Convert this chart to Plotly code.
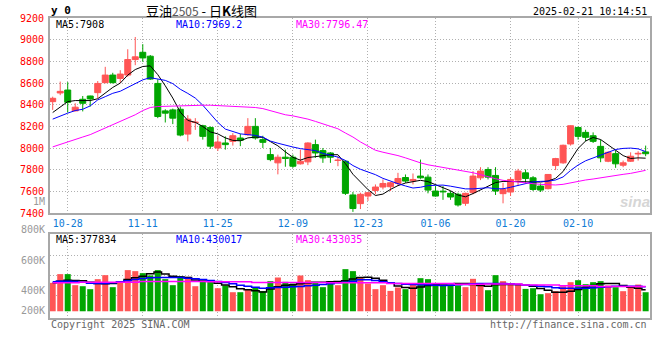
import plotly.graph_objects as go

# ---------------- data ----------------
dates = [
    "2024-10-24", "2024-10-25", "2024-10-28", "2024-10-29", "2024-10-30", "2024-10-31", "2024-11-01", "2024-11-04",
    "2024-11-05", "2024-11-06", "2024-11-07", "2024-11-08", "2024-11-11", "2024-11-12", "2024-11-13", "2024-11-14",
    "2024-11-15", "2024-11-18", "2024-11-19", "2024-11-20", "2024-11-21", "2024-11-22", "2024-11-25", "2024-11-26",
    "2024-11-27", "2024-11-28", "2024-11-29", "2024-12-02", "2024-12-03", "2024-12-04", "2024-12-05", "2024-12-06",
    "2024-12-09", "2024-12-10", "2024-12-11", "2024-12-12", "2024-12-13", "2024-12-16", "2024-12-17", "2024-12-18",
    "2024-12-19", "2024-12-20", "2024-12-23", "2024-12-24", "2024-12-25", "2024-12-26", "2024-12-27", "2024-12-30",
    "2024-12-31", "2025-01-02", "2025-01-03", "2025-01-06", "2025-01-07", "2025-01-08", "2025-01-09", "2025-01-10",
    "2025-01-13", "2025-01-14", "2025-01-15", "2025-01-16", "2025-01-17", "2025-01-20", "2025-01-21", "2025-01-22",
    "2025-01-23", "2025-01-24", "2025-01-27", "2025-02-05", "2025-02-06", "2025-02-07", "2025-02-10", "2025-02-11",
    "2025-02-12", "2025-02-13", "2025-02-14", "2025-02-17", "2025-02-18", "2025-02-19", "2025-02-20", "2025-02-21",
]

open_ = [8429, 8509, 8536, 8344, 8451, 8481, 8512, 8604, 8674, 8643,
         8674, 8817, 8884, 8848, 8597, 8344, 8353, 8359, 8130, 8237,
         8207, 8191, 8002, 8048, 8063, 8094, 8124, 8201, 8079, 7941,
         7865, 7917, 7917, 7856, 7874, 8033, 7978, 7956, 7887, 7880,
         7569, 7489, 7559, 7611, 7642, 7645, 7675, 7730, 7699, 7743,
         7733, 7605, 7604, 7584, 7575, 7492, 7590, 7727, 7804, 7749,
         7581, 7596, 7706, 7773, 7727, 7651, 7627, 7840, 7865, 8039,
         8191, 8146, 8115, 8017, 7880, 7950, 7843, 7880, 7947, 7966]
high = [8475, 8614, 8609, 8414, 8481, 8484, 8619, 8750, 8695, 8719,
        8912, 9025, 8959, 8859, 8634, 8359, 8365, 8384, 8304, 8277,
        8216, 8201, 8115, 8109, 8139, 8133, 8277, 8277, 8115, 8002,
        7941, 7987, 7941, 7987, 8054, 8079, 8002, 7964, 7926, 7889,
        7596, 7590, 7596, 7666, 7712, 7688, 7773, 7758, 7767, 7895,
        7758, 7651, 7651, 7605, 7590, 7590, 7789, 7825, 7825, 7825,
        7681, 7733, 7810, 7804, 7743, 7675, 7760, 7911, 8033, 8209,
        8201, 8170, 8146, 8079, 7972, 7978, 7886, 7962, 7972, 8024]
low = [8353, 8489, 8329, 8339, 8339, 8384, 8460, 8599, 8597, 8599,
       8659, 8765, 8796, 8629, 8277, 8237, 8222, 8109, 8063, 8169,
       8079, 7994, 7974, 7987, 8024, 8019, 8115, 8079, 8002, 7880,
       7759, 7829, 7819, 7849, 7844, 7911, 7865, 7865, 7834, 7569,
       7413, 7439, 7514, 7575, 7620, 7605, 7651, 7681, 7666, 7718,
       7584, 7554, 7524, 7524, 7462, 7469, 7575, 7706, 7712, 7569,
       7492, 7559, 7651, 7681, 7605, 7596, 7620, 7798, 7856, 8024,
       8079, 8063, 8048, 7871, 7871, 7819, 7825, 7874, 7886, 7926]
close = [8460, 8524, 8423, 8378, 8414, 8454, 8597, 8674, 8604, 8683,
         8817, 8842, 8832, 8637, 8292, 8323, 8277, 8121, 8268, 8241,
         8109, 8019, 8057, 8033, 8115, 8073, 8201, 8094, 8054, 7895,
         7917, 7905, 7834, 7880, 8048, 7956, 7911, 7917, 7891, 7584,
         7444, 7575, 7590, 7642, 7675, 7681, 7721, 7697, 7712, 7727,
         7614, 7559, 7597, 7550, 7477, 7584, 7743, 7789, 7733, 7605,
         7620, 7712, 7789, 7721, 7620, 7614, 7758, 7904, 8027, 8207,
         8109, 8100, 8063, 7911, 7962, 7856, 7865, 7926, 7953, 7949]

ma5 = [8329, 8378, 8429, 8439, 8438, 8439, 8456, 8512, 8560, 8600,
       8674, 8725, 8753, 8759, 8678, 8575, 8462, 8332, 8256, 8238,
       8200, 8150, 8132, 8095, 8072, 8068, 8095, 8102, 8100, 8061,
       8022, 7966, 7916, 7890, 7914, 7922, 7929, 7940, 7940, 7858,
       7760, 7688, 7619, 7564, 7577, 7620, 7655, 7679, 7694, 7704,
       7692, 7663, 7640, 7608, 7568, 7552, 7582, 7617, 7655, 7683,
       7694, 7692, 7690, 7688, 7688, 7688, 7698, 7722, 7785, 7898,
       7998, 8066, 8099, 8080, 8032, 7980, 7932, 7905, 7911, 7908]
ma10 = [8268, 8298, 8323, 8347, 8359, 8390, 8445, 8475, 8506, 8525,
        8560, 8592, 8630, 8650, 8640, 8625, 8595, 8543, 8505, 8462,
        8396, 8314, 8238, 8176, 8156, 8132, 8125, 8118, 8102, 8066,
        8046, 8032, 8011, 7996, 7990, 7978, 7952, 7933, 7918, 7887,
        7840, 7806, 7780, 7756, 7722, 7694, 7673, 7652, 7633, 7640,
        7655, 7658, 7660, 7650, 7634, 7625, 7625, 7633, 7636, 7626,
        7626, 7640, 7658, 7676, 7690, 7694, 7696, 7707, 7735, 7795,
        7845, 7884, 7910, 7932, 7965, 7988, 7998, 8001, 7994, 7969]
ma30 = [8012, 8033, 8058, 8079, 8103, 8125, 8155, 8186, 8216, 8247,
        8277, 8308, 8347, 8375, 8384, 8387, 8387, 8390, 8393, 8396,
        8396, 8396, 8393, 8390, 8387, 8384, 8381, 8375, 8365, 8345,
        8323, 8308, 8298, 8286, 8268, 8247, 8225, 8201, 8179, 8140,
        8103, 8058, 8018, 7981, 7963, 7951, 7932, 7911, 7887, 7865,
        7847, 7835, 7823, 7814, 7801, 7789, 7774, 7756, 7734, 7719,
        7704, 7695, 7686, 7679, 7673, 7667, 7661, 7661, 7667, 7682,
        7695, 7707, 7716, 7728, 7740, 7750, 7759, 7768, 7780, 7796]

volume_k = [497, 649, 649, 456, 438, 386, 561, 631, 421, 526,
            719, 701, 666, 625, 719, 561, 456, 614, 602, 438,
            514, 526, 403, 450, 333, 333, 380, 421, 351, 526,
            590, 514, 485, 625, 543, 497, 421, 497, 456, 736,
            701, 590, 485, 386, 456, 356, 415, 386, 473, 578,
            561, 456, 450, 456, 450, 421, 567, 467, 368, 631,
            526, 467, 473, 391, 403, 298, 316, 351, 438, 508,
            543, 473, 508, 526, 450, 421, 351, 421, 467, 333]
vol_ma5_k = [497, 526, 543, 538, 532, 505, 485, 480, 485, 508,
             555, 585, 610, 655, 687, 650, 610, 598, 590, 548,
             528, 525, 490, 460, 430, 395, 375, 360, 335, 390,
             430, 455, 465, 480, 495, 505, 508, 514, 520, 535,
             565, 590, 595, 575, 540, 495, 440, 415, 400, 425,
             450, 465, 475, 480, 485, 485, 467, 450, 438, 462,
             467, 467, 467, 456, 438, 397, 368, 333, 333, 351,
             380, 421, 450, 479, 485, 485, 450, 421, 403, 378]
vol_ma10_k = [514, 526, 526, 520, 508, 491, 485, 485, 497, 514,
              535, 555, 573, 584, 590, 592, 592, 590, 578, 567,
              555, 538, 520, 502, 479, 456, 438, 420, 403, 409,
              415, 421, 427, 432, 444, 456, 467, 479, 497, 508,
              526, 549, 549, 538, 514, 497, 485, 473, 467, 462,
              462, 456, 450, 456, 462, 467, 479, 485, 485, 485,
              485, 479, 467, 456, 450, 438, 427, 409, 403, 403,
              403, 403, 409, 421, 427, 438, 438, 438, 438, 430]
vol_ma30_k = [497, 497, 497, 497, 508, 508, 508, 508, 508, 508,
              508, 508, 520, 520, 520, 520, 520, 520, 520, 520,
              520, 514, 514, 514, 514, 514, 514, 502, 502, 502,
              502, 502, 502, 502, 502, 502, 502, 497, 497, 497,
              497, 497, 497, 497, 497, 485, 485, 485, 485, 485,
              485, 485, 485, 485, 470, 470, 470, 470, 478, 478,
              478, 478, 478, 458, 458, 458, 458, 458, 447, 447,
              447, 447, 447, 433, 433, 433, 433, 433, 433, 433]

tick_dates = ["2024-10-28", "2024-11-11", "2024-11-25", "2024-12-09",
              "2024-12-23", "2025-01-06", "2025-01-20", "2025-02-10"]
price_ticks = [7400, 7600, 7800, 8000, 8200, 8400, 8600, 8800, 9000, 9200]
vol_labels = ["800K", "600K", "400K", "200K"]

title_name = "豆油"
title_code = "2505"
title_rest = " - 日<b>K</b>线图"
timestamp = "2025-02-21 10:14:51"
legend_main = ["MA5:7908", "MA10:7969.2", "MA30:7796.47"]
legend_vol = ["MA5:377834", "MA10:430017", "MA30:433035"]

# ---------------- styling ----------------
RED = "#ff5555"
GREEN = "#00a600"
MONO = "DejaVu Sans Mono"
CJK = "Noto Sans CJK SC"
GRID = "#b0b0b0"
BORDER = "#a8a8a8"
MA_COLORS = ["#000000", "#0000ff", "#ff00ff"]

W, H = 660, 360
ML, MR, MT, MB = 50, 10, 18, 42
PW, PH = W - ML - MR, H - MT - MB


def px_x(px):
    return (px - ML) / PW


def px_y(py):
    return (H - MB - py) / PH


def ann(text, px, py, color, size=10, xanchor="left", family=MONO):
    return dict(text=text, x=px_x(px), y=px_y(py), xref="paper", yref="paper",
                xanchor=xanchor, yanchor="middle", showarrow=False,
                font=dict(family=family, size=size, color=color))


colors = [RED if c >= o else GREEN for o, c in zip(open_, close)]

fig = go.Figure()

# candle bodies
fig.add_trace(go.Bar(
    x=dates, y=[abs(c - o) for o, c in zip(open_, close)],
    base=[min(o, c) for o, c in zip(open_, close)],
    width=0.8, marker=dict(color=colors, line=dict(color=colors, width=1)),
    xaxis="x", yaxis="y", hoverinfo="skip"))

# wicks
for col in (RED, GREEN):
    wx, wy = [], []
    for d, h, l, c in zip(dates, high, low, colors):
        if c == col:
            wx += [d, d, None]
            wy += [l, h, None]
    fig.add_trace(go.Scatter(x=wx, y=wy, mode="lines", line=dict(color=col, width=1),
                             xaxis="x", yaxis="y", hoverinfo="skip"))

# price moving averages
for series, col in zip((ma5, ma10, ma30), MA_COLORS):
    fig.add_trace(go.Scatter(x=dates, y=series, mode="lines", line=dict(color=col, width=1),
                             xaxis="x", yaxis="y", hoverinfo="skip"))

# volume bars
fig.add_trace(go.Bar(x=dates, y=volume_k, width=0.8, marker=dict(color=colors, line=dict(width=0)),
                     xaxis="x2", yaxis="y2", hoverinfo="skip"))
for series, col in zip((vol_ma5_k, vol_ma10_k, vol_ma30_k), MA_COLORS):
    fig.add_trace(go.Scatter(x=dates, y=series, mode="lines", line=dict(color=col, width=1.5, shape="hvh"),
                             xaxis="x2", yaxis="y2", hoverinfo="skip"))

main_bottom = px_y(213.3)
vol_top = px_y(234.3)
xr = [-0.36, len(dates) - 1 + 0.58]

axis_common = dict(showline=True, mirror=True, linecolor=BORDER, linewidth=2,
                   showgrid=True, gridcolor=GRID, griddash="1px,2px", gridwidth=1,
                   zeroline=False, ticks="", fixedrange=True)

annotations = [
    ann("<b>y 0</b>", 49, 11, "#000000", size=11),
    ann(title_name + "<span style='font-size:12px;color:#555555'>" + title_code + "</span>" + title_rest,
        201, 11, "#000000", size=13, xanchor="center", family=CJK),
    ann(timestamp, 649, 12, "#000000", xanchor="right"),
    ann(legend_main[0], 54, 24, MA_COLORS[0]),
    ann(legend_main[1], 174, 24, MA_COLORS[1]),
    ann(legend_main[2], 294, 24, MA_COLORS[2]),
    ann(legend_vol[0], 54, 239, MA_COLORS[0]),
    ann(legend_vol[1], 174, 239, MA_COLORS[1]),
    ann(legend_vol[2], 294, 239, MA_COLORS[2]),
    ann("1M", 47, 201, "#999999", xanchor="right"),
    ann("Copyright 2025 SINA.COM", 49, 324, "#666666"),
    ann("http://finance.sina.com.cn", 649, 324, "#666666", xanchor="right"),
    ann("<b><i>sina</i></b>", 635, 201, "#d6d6d6", size=15, xanchor="center", family="Liberation Sans"),
]
for text, py in zip(vol_labels, (229, 260, 290, 310)):
    annotations.append(ann(text, 47, py, "#999999", xanchor="right"))

fig.update_layout(
    width=W, height=H, margin=dict(l=ML, r=MR, t=MT, b=MB, autoexpand=False),
    paper_bgcolor="white", plot_bgcolor="white", showlegend=False, barmode="overlay",
    hovermode=False, annotations=annotations,
    xaxis=dict(type="category", domain=[0, 1], anchor="y", range=xr,
               tickvals=tick_dates, ticktext=[d[5:] for d in tick_dates],
               tickfont=dict(family=MONO, size=10, color="#0f7bd6"), ticklabelstandoff=0,
               **axis_common),
    yaxis=dict(domain=[main_bottom, 1], anchor="x", range=[7400, 9200], tickvals=price_ticks,
               tickfont=dict(family=MONO, size=10, color="#ff0000"), ticklabelstandoff=2,
               **axis_common),
    xaxis2=dict(type="category", domain=[0, 1], anchor="y2", range=xr, matches="x",
                tickvals=tick_dates, showticklabels=False, **axis_common),
    yaxis2=dict(domain=[0, vol_top], anchor="x2", range=[-117.5, 1344.5],
                tickvals=[275, 626, 976], showticklabels=False, **axis_common),
)

fig.write_html("out.html", config={"displayModeBar": False, "staticPlot": True},
               post_script="document.body.style.margin='0';document.body.style.overflow='hidden';")
